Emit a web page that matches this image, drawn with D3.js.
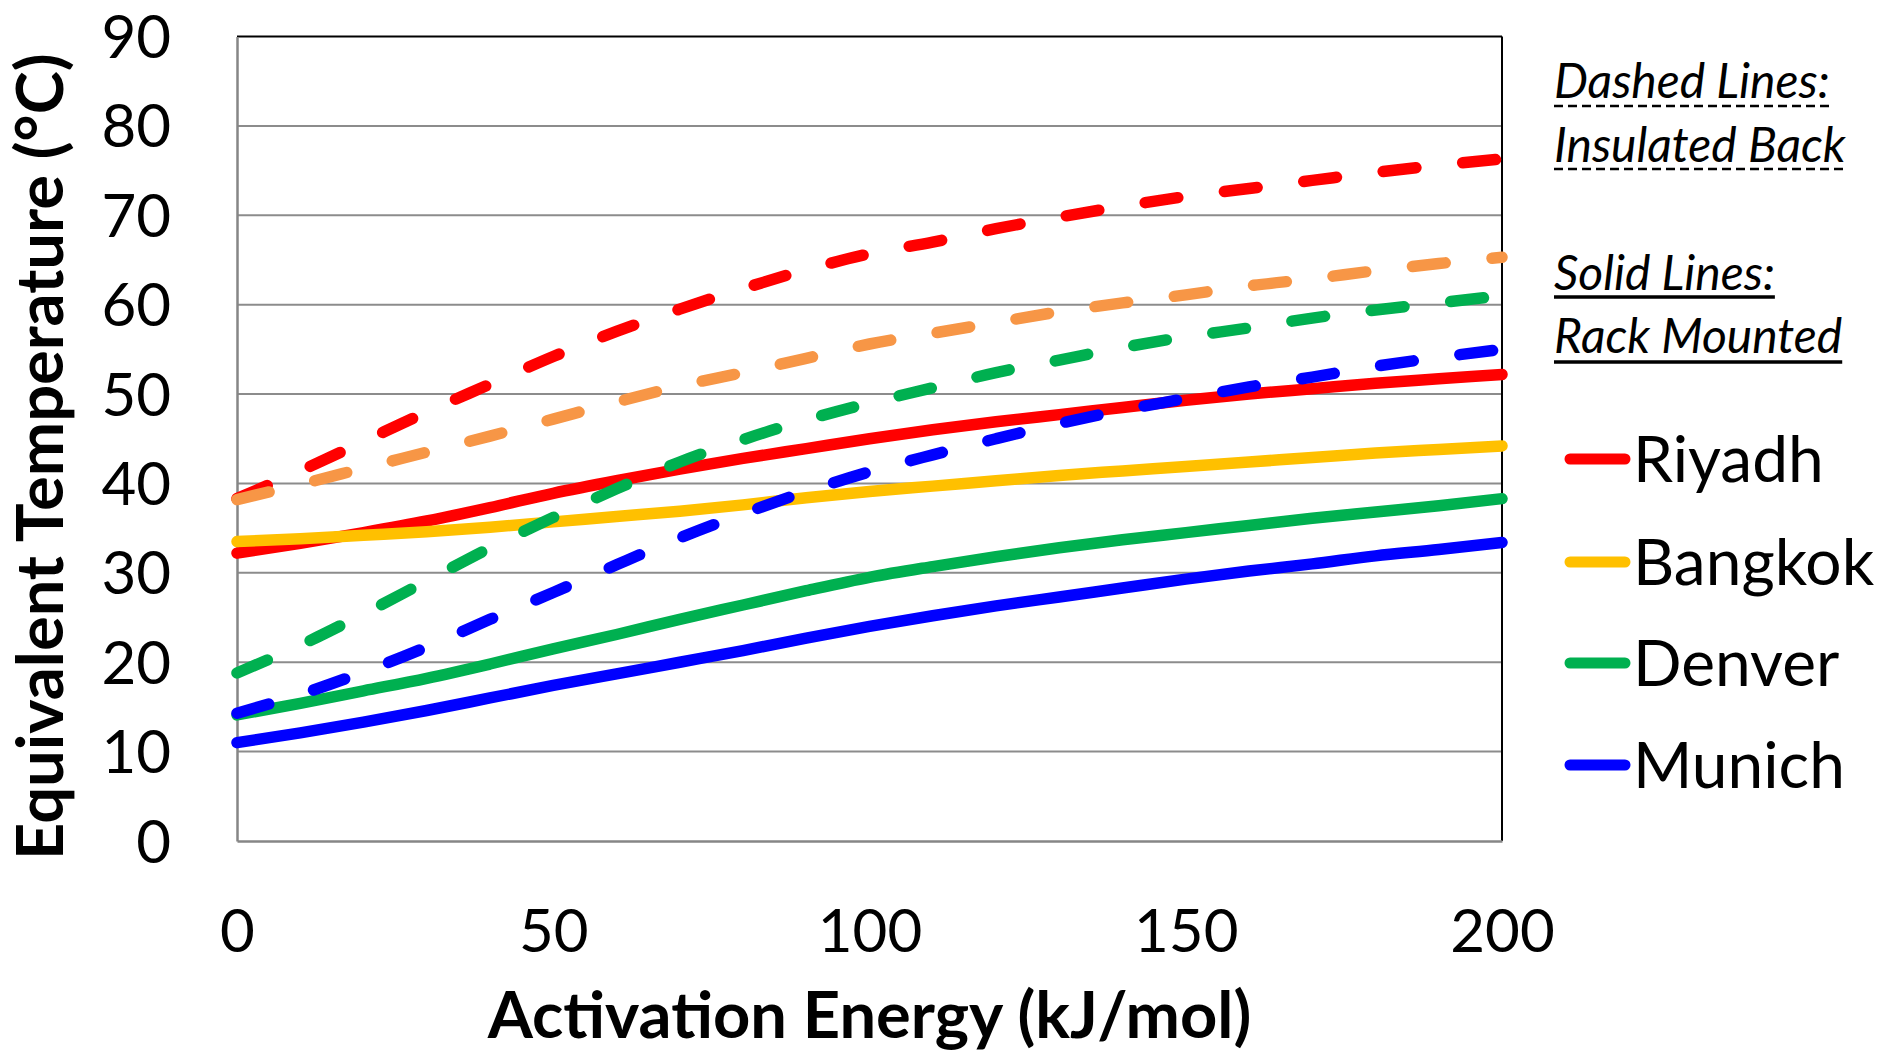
<!DOCTYPE html>
<html>
<head>
<meta charset="utf-8">
<script src="https://cdn.jsdelivr.net/npm/d3@7"></script>
<style>
html,body{margin:0;padding:0;background:#fff;}
svg{display:block;}
text{font-family:Lato,"Open Sans",sans-serif;fill:#000;}
</style>
</head>
<body>
<svg id="chart" width="1879" height="1057"></svg>
<script>
// ---- data ----
const energy = [0,10,20,30,40,50,60,70,80,90,100,110,120,130,140,150,160,170,180,190,200];
const cities = ["Riyadh","Bangkok","Denver","Munich"];
const cityColors = ["#FF0000","#FFC000","#00B050","#0000FF"];
const dashedColors = ["#FF0000","#F79646","#00B050","#0000FF"];
// Rack mounted (solid)
const riyadhRack  = [32.2,33.3,34.5,35.8,37.3,38.9,40.3,41.6,42.8,43.9,45.0,46.0,46.9,47.7,48.5,49.3,50.0,50.6,51.2,51.7,52.2];
const bangkokRack = [33.5,33.8,34.2,34.6,35.1,35.7,36.3,36.9,37.6,38.4,39.1,39.7,40.3,40.9,41.4,41.9,42.4,42.9,43.4,43.8,44.2];
const denverRack  = [14.1,15.4,16.8,18.2,19.8,21.5,23.1,24.8,26.4,28.0,29.5,30.7,31.8,32.8,33.7,34.5,35.3,36.1,36.8,37.5,38.3];
const munichRack  = [11.0,12.1,13.3,14.6,16.0,17.4,18.7,20.0,21.3,22.7,24.0,25.2,26.3,27.3,28.3,29.3,30.2,31.0,31.9,32.6,33.4];
// Insulated back (dashed)
const riyadhIns   = [38.3,41.4,44.7,48.0,51.1,54.2,57.0,59.5,61.8,63.9,65.7,67.0,68.5,69.8,71.0,72.1,73.0,73.9,74.8,75.6,76.3];
const bangkokIns  = [38.2,39.9,41.7,43.5,45.3,47.2,49.1,50.9,52.4,54.0,55.6,56.8,58.0,59.2,60.2,61.1,62.1,62.9,63.8,64.6,65.3];
const denverIns   = [18.8,21.9,25.4,29.1,32.8,36.2,39.4,42.4,44.9,47.1,49.0,50.7,52.4,53.8,55.2,56.4,57.4,58.5,59.4,60.2,61.0];
const munichIns   = [14.3,16.4,18.9,21.7,24.8,27.8,30.9,33.9,36.6,39.1,41.3,43.2,45.0,46.7,48.2,49.5,50.8,51.9,53.1,54.1,55.0];
const xTicks = [0,50,100,150,200];
const yTicks = [0,10,20,30,40,50,60,70,80,90];
const xTitle = "Activation Energy (kJ/mol)";
const yTitle = "Equivalent Temperature (°C)";
const noteLines = [["Dashed Lines:","Insulated Back"],["Solid Lines:","Rack Mounted"]];

const rackSeries = [riyadhRack,bangkokRack,denverRack,munichRack];
const insSeries = [riyadhIns,bangkokIns,denverIns,munichIns];

// ---- layout ----
const svg = d3.select("#chart");
const L = 237, R = 1502, T = 36.5, B = 841;
const x = d3.scaleLinear().domain([0,200]).range([L,R]);
const y = d3.scaleLinear().domain([0,90]).range([B,T]);

// gridlines
svg.append("g").selectAll("line").data(yTicks.filter(v=>v>0&&v<90)).join("line")
  .attr("x1",L).attr("x2",R).attr("y1",d=>y(d)).attr("y2",d=>y(d))
  .attr("stroke","#8c8c8c").attr("stroke-width",2);

// plot border
svg.append("line").attr("x1",L).attr("x2",R).attr("y1",T).attr("y2",T).attr("stroke","#000").attr("stroke-width",2);
svg.append("line").attr("x1",R).attr("x2",R).attr("y1",T).attr("y2",B).attr("stroke","#000").attr("stroke-width",2);

// axes
const yAxis = svg.append("g").attr("transform",`translate(${L},0)`)
  .call(d3.axisLeft(y).tickValues(yTicks).tickSize(0).tickPadding(66).tickFormat(d3.format("d")));
yAxis.select(".domain").attr("stroke","#868686").attr("stroke-width",2.5);
yAxis.selectAll("text").attr("font-size",60).attr("font-family","Lato").attr("dy","0.35em");

const xAxis = svg.append("g").attr("transform",`translate(0,${B})`)
  .call(d3.axisBottom(x).tickValues(xTicks).tickSize(0).tickPadding(0).tickFormat(d3.format("d")));
xAxis.select(".domain").attr("stroke","#868686").attr("stroke-width",2.5);
xAxis.selectAll("text").attr("font-size",60).attr("font-family","Lato").attr("dy",0).attr("y",111);

// lines
const line = d3.line().x((d,i)=>x(energy[i])).y(d=>y(d)).curve(d3.curveMonotoneX);
const g = svg.append("g");
rackSeries.forEach((s,i)=>{
  g.append("path").attr("d",line(s)).attr("fill","none")
    .attr("stroke",cityColors[i]).attr("stroke-width",11.5).attr("stroke-linecap","round");
});
insSeries.forEach((s,i)=>{
  g.append("path").attr("d",line(s)).attr("fill","none")
    .attr("stroke",dashedColors[i]).attr("stroke-width",11.5).attr("stroke-linecap","round")
    .attr("stroke-dasharray","33,47");
});

// axis titles
svg.append("text").attr("x",(L+R)/2).attr("y",1038).attr("text-anchor","middle")
  .attr("font-size",65).attr("font-weight",700).text(xTitle);
svg.append("text").attr("transform",`translate(63,${(T+B)/2+18}) rotate(-90)`).attr("text-anchor","middle")
  .attr("font-size",65).attr("font-weight",700).text(yTitle);

// notes
const noteX = 1554;
const noteBase = [[98,162],[290,353]];
const underY = [[106,169],[297,362]];
noteLines.forEach((pair,k)=>{
  pair.forEach((t,j)=>{
    const tx = svg.append("text").attr("x",noteX).attr("y",noteBase[k][j])
      .attr("font-size",48).attr("font-style","italic").text(t);
    const w = tx.node().getComputedTextLength();
    svg.append("line").attr("x1",noteX).attr("x2",noteX+w).attr("y1",underY[k][j]).attr("y2",underY[k][j])
      .attr("stroke","#000").attr("stroke-width",k===0?2.5:3.5)
      .attr("stroke-dasharray",k===0?"9,5":null);
  });
});

// legend
const legY = [459,562,663,765];
cities.forEach((c,i)=>{
  svg.append("line").attr("x1",1570).attr("x2",1625).attr("y1",legY[i]).attr("y2",legY[i])
    .attr("stroke",cityColors[i]).attr("stroke-width",11).attr("stroke-linecap","round");
  svg.append("text").attr("x",1633).attr("y",legY[i]+23).attr("font-size",64).text(c);
});
</script>
</body>
</html>
